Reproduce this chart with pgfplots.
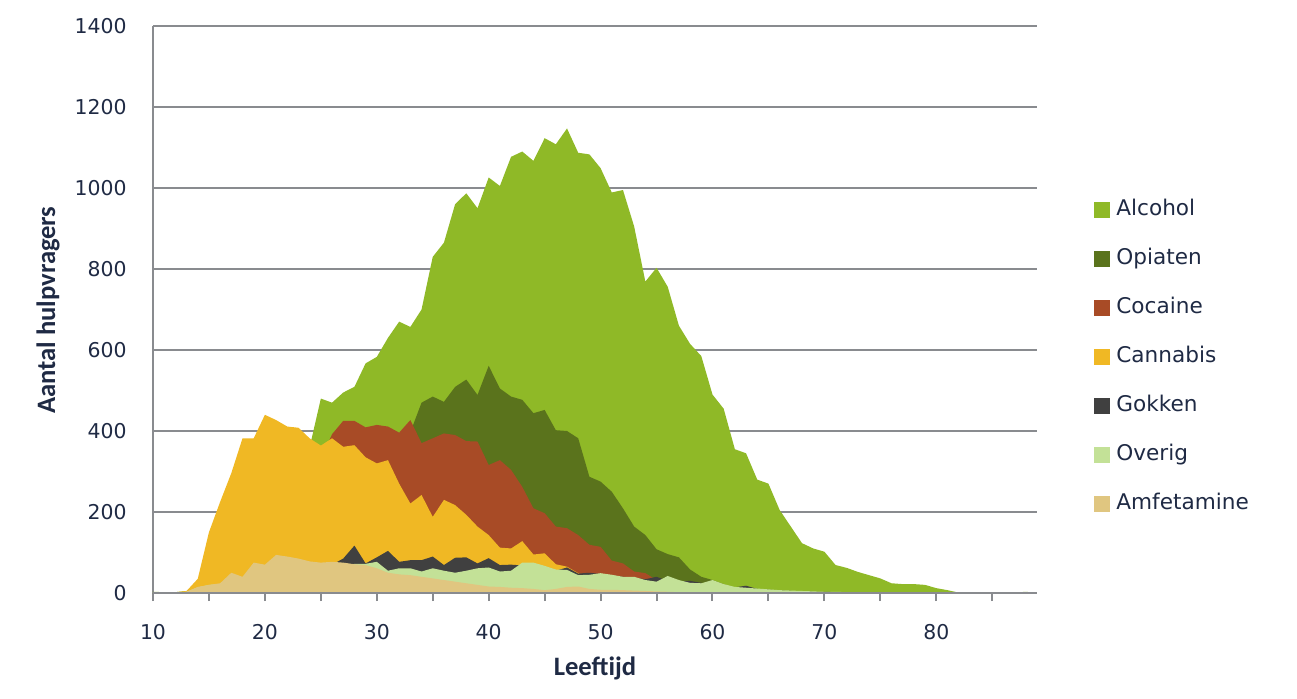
\documentclass[border=0pt]{standalone}
\usepackage{fontspec}
\setmainfont{DejaVu Sans}
\newfontfamily\carlito{Carlito}
\usepackage{pgfplots}
\usepackage{pgfplotstable}
\pgfplotsset{compat=1.18}

\definecolor{alcohol}{RGB}{143,185,39}
\definecolor{opiaten}{RGB}{90,115,28}
\definecolor{cocaine}{RGB}{168,75,38}
\definecolor{cannabis}{RGB}{240,184,36}
\definecolor{gokken}{RGB}{64,64,64}
\definecolor{overig}{RGB}{195,225,151}
\definecolor{amfetamine}{RGB}{224,198,128}
\definecolor{axisgray}{RGB}{137,139,143}
\definecolor{navy}{RGB}{31,42,68}

% leeftijd, aantal hulpvragers per middel
\pgfplotstableread{
age alc opi coc can gok ove amf
10 3 0 0 0 0 2 0
11 2 0 0 1 0 1 0
12 2 0 0 2 0 0 0
13 5 1 1 5 0 3 3
14 10 3 3 35 0 14 15
15 20 5 8 150 0 20 20
16 40 10 20 225 0 22 24
17 70 20 40 296 0 26 50
18 100 30 60 382 2 32 40
19 130 40 90 382 5 38 75
20 170 55 120 440 15 42 70
21 200 70 160 427 25 45 94
22 250 90 200 411 35 48 90
23 300 110 250 408 45 52 85
24 360 140 290 382 55 55 78
25 480 160 330 364 62 58 75
26 470 180 392 382 70 62 77
27 495 200 425 361 85 66 75
28 509 230 425 365 117 72 71
29 567 260 409 335 73 72 69
30 583 290 415 320 88 77 61
31 630 320 411 328 104 55 50
32 670 350 396 270 77 61 46
33 657 397 427 221 81 61 44
34 700 470 370 242 81 53 40
35 830 485 382 188 90 61 36
36 865 472 394 230 69 55 32
37 960 509 390 217 87 50 28
38 987 527 375 193 88 55 24
39 950 489 374 164 73 61 20
40 1026 561 316 143 86 63 16
41 1005 505 328 112 69 53 15
42 1077 485 304 110 70 55 13
43 1090 477 262 128 68 75 12
44 1067 444 209 95 62 75 10
45 1123 452 197 98 58 67 7
46 1108 402 164 71 55 58 10
47 1147 400 160 65 63 57 15
48 1087 382 143 49 48 44 16
49 1083 287 119 40 50 45 10
50 1049 275 114 35 47 49 8
51 989 250 80 30 43 45 8
52 995 209 73 25 40 40 7
53 905 164 53 20 38 40 6
54 769 143 49 16 34 32 5
55 803 108 32 12 40 28 4
56 756 96 22 10 30 42 3
57 660 88 15 8 28 32 2
58 615 58 10 6 30 25 2
59 585 40 7 5 25 24 1
60 490 32 5 4 20 32 1
61 455 22 3 3 16 22 0
62 355 12 2 2 14 15 0
63 345 10 1 2 18 13 0
64 280 8 1 1 10 11 0
65 270 6 0 1 8 9 0
66 205 5 0 1 6 7 0
67 164 4 0 1 5 6 0
68 123 3 0 1 4 5 0
69 110 2 0 0 3 4 0
70 102 2 0 0 3 3 0
71 69 1 0 0 2 3 0
72 62 1 0 0 2 2 0
73 52 1 0 0 1 2 0
74 44 1 0 0 1 1 0
75 36 0 0 0 1 1 0
76 24 0 0 0 0 1 0
77 22 0 0 0 0 1 0
78 22 0 0 0 0 0 0
79 20 0 0 0 0 0 0
80 12 0 0 0 0 0 0
81 7 0 0 0 0 0 0
82 1 0 0 0 0 0 0
83 1 0 0 0 0 0 0
84 0 0 0 0 0 0 0
85 0 0 0 0 0 0 0
86 2 0 0 0 0 0 0
87 1 0 0 0 0 0 0
88 3 0 0 0 0 0 0
89 0 0 0 0 0 0 0
}\data

\begin{document}
\begin{tikzpicture}
\path[use as bounding box] (-76.5bp,-53bp) rectangle (572bp,296.5bp);
\begin{axis}[
  at={(0,0)}, anchor=south west,
  scale only axis,
  width=442bp, height=283.5bp,
  xmin=10, xmax=89,
  ymin=0, ymax=1400,
  axis x line=bottom, axis y line=left,
  axis line style={-, draw=axisgray, line width=1bp},
  xtick={10,15,...,85},
  xticklabels={10,,20,,30,,40,,50,,60,,70,,80,},
  ytick={0,200,...,1400},
  tick align=outside,
  major tick length=4bp,
  xtick style={draw=axisgray, line width=1bp},
  ytick style={draw=none},
  ymajorgrids=true,
  major grid style={draw=axisgray, line width=1bp},
  /pgf/number format/assume math mode=true,
  /pgf/number format/1000 sep={},
  ticklabel style={font=\fontsize{10.2bp}{12bp}\selectfont, text=navy},
  xticklabel style={anchor=center, yshift=-15.5bp},
  yticklabel style={anchor=east, inner sep=0pt, xshift=-9bp},
  xlabel={Leeftijd},
  ylabel={Aantal hulpvragers},
  label style={font=\carlito\bfseries\fontsize{13.3bp}{15bp}\selectfont, text=navy},
  xlabel style={at={(axis description cs:0.5,0)}, anchor=center, yshift=-37.5bp},
  ylabel style={at={(axis description cs:-0.1188,0.499)}, anchor=center},
  legend cell align=left,
  legend image code/.code={\fill[#1] (0bp,-4bp) rectangle (8bp,4bp);},
  legend style={at={(axis description cs:1.0645,0.417)}, anchor=west,
    draw=none, fill=none, inner sep=0pt, row sep=14bp,
    font=\fontsize{10.8bp}{13bp}\selectfont, text=navy,
    nodes={inner sep=0pt, text height=8bp, text depth=2.5bp},
    /tikz/every odd column/.append style={column sep=3bp}},
]
\addplot[fill=alcohol, draw=none] table[x=age, y=alc] {\data} \closedcycle;
\addlegendentry{Alcohol}
\addplot[fill=opiaten, draw=none] table[x=age, y=opi] {\data} \closedcycle;
\addlegendentry{Opiaten}
\addplot[fill=cocaine, draw=none] table[x=age, y=coc] {\data} \closedcycle;
\addlegendentry{Cocaine}
\addplot[fill=cannabis, draw=none] table[x=age, y=can] {\data} \closedcycle;
\addlegendentry{Cannabis}
\addplot[fill=gokken, draw=none] table[x=age, y=gok] {\data} \closedcycle;
\addlegendentry{Gokken}
\addplot[fill=overig, draw=none] table[x=age, y=ove] {\data} \closedcycle;
\addlegendentry{Overig}
\addplot[fill=amfetamine, draw=none] table[x=age, y=amf] {\data} \closedcycle;
\addlegendentry{Amfetamine}
\draw[axisgray, line width=1bp] (axis cs:10,0) -- (axis cs:89,0);
\end{axis}
\end{tikzpicture}
\end{document}
